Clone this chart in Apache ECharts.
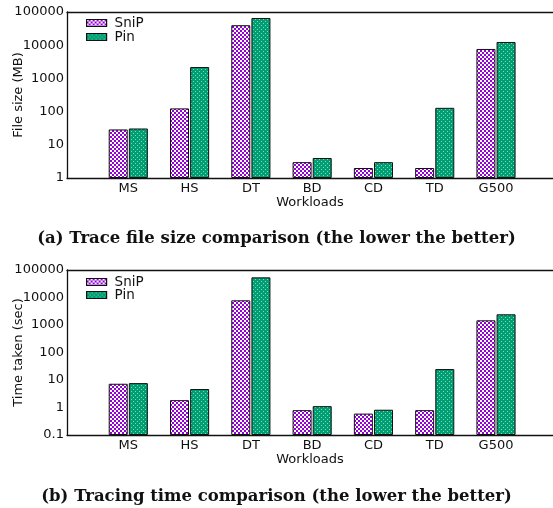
<!DOCTYPE html>
<html>
<head>
<meta charset="utf-8">
<script src="https://cdn.jsdelivr.net/npm/echarts@6/dist/echarts.min.js"></script>
<style>html,body{margin:0;padding:0;background:#fff}#c{width:553px;height:508px}</style>
</head>
<body>
<div id="c"></div>
<script>
// ---- data ----
var categories = ['MS', 'HS', 'DT', 'BD', 'CD', 'TD', 'G500'];
var seriesNames = ['SniP', 'Pin'];
var sizeSniP = [29, 125, 40000, 3, 2, 2, 7700];
var sizePin = [31, 2200, 66000, 4, 3, 130, 12500];
var timeSniP = [7.3, 1.85, 7900, 0.8, 0.6, 0.8, 1480];
var timePin = [7.7, 4.7, 54000, 1.12, 0.83, 25, 2450];
var sizeTicks = ['1', '10', '100', '1000', '10000', '100000'];
var timeTicks = ['0.1', '1', '10', '100', '1000', '10000', '100000'];
var captionA = '(a) Trace file size comparison (the lower the better)';
var captionB = '(b) Tracing time comparison (the lower the better)';

function makePattern(bg, fg, kind) {
  var c = document.createElement('canvas');
  c.width = 4; c.height = 4;
  var g = c.getContext('2d');
  g.fillStyle = bg; g.fillRect(0, 0, 4, 4);
  g.fillStyle = fg;
  if (kind === 'check') {
    g.fillRect(0, 0, 2, 2);
    g.fillRect(2, 2, 2, 2);
  } else {
    g.fillRect(1, 1, 1, 1);
    g.fillRect(3, 3, 1, 1);
  }
  return { image: c, repetition: 'repeat' };
}
var patSniP = makePattern('#9400D3', '#ffffff', 'check');
var patPin = makePattern('#009E73', '#7fd6b8', 'dots');

function pairs(arr) { return arr.map(function (v, i) { return [i, v]; }); }
function tickFmt(list) {
  return function (v) {
    for (var i = 0; i < list.length; i++) {
      if (Math.abs(Math.log10(Number(list[i])) - Math.log10(v)) < 1e-6) return list[i];
    }
    return '';
  };
}

var FONT = 'DejaVu Sans';
var lineStyle = { color: '#111', width: 1.3 };

function xAxes(gi) {
  return [{
    gridIndex: gi, type: 'value', min: -1, max: 6.93, interval: 1,
    axisLine: { show: true, onZero: false, lineStyle: lineStyle },
    axisTick: { show: false }, splitLine: { show: false },
    axisLabel: {
      margin: 4, fontFamily: FONT, fontSize: 13, color: '#111',
      showMaxLabel: false,
      formatter: function (v) { return (Number.isInteger(v) && v >= 0 && v < categories.length) ? categories[v] : ''; }
    },
    name: 'Workloads', nameLocation: 'middle', nameGap: 18, nameMoveOverlap: false,
    nameTextStyle: { fontFamily: FONT, fontSize: 13, color: '#111' }
  }, {
    gridIndex: gi, type: 'value', min: -1, max: 6.93, position: 'top',
    axisLine: { show: true, onZero: false, lineStyle: lineStyle },
    axisTick: { show: false }, splitLine: { show: false }, axisLabel: { show: false }
  }];
}
function yAxis(gi, min, ticks, name) {
  return {
    gridIndex: gi, type: 'log', logBase: 10, min: min, max: 100000, startValue: min,
    axisLine: { show: true, onZero: false, lineStyle: lineStyle },
    axisTick: { show: false }, splitLine: { show: false }, minorTick: { show: false },
    axisLabel: { margin: 3, fontFamily: FONT, fontSize: 13, color: '#111', formatter: tickFmt(ticks) },
    name: name, nameLocation: 'middle', nameGap: 42, nameMoveOverlap: false,
    nameTextStyle: { fontFamily: FONT, fontSize: 13, color: '#111' }
  };
}
function bar(name, data, pat, gi) {
  return {
    name: name, type: 'bar', xAxisIndex: gi * 2, yAxisIndex: gi,
    data: pairs(data), barWidth: 19, barGap: '6%',
    itemStyle: { color: pat, borderColor: '#111', borderWidth: 1 },
    emphasis: { disabled: true }, animation: false
  };
}
function legend(top, gap) {
  return {
    data: seriesNames, orient: 'vertical', left: 81, top: top,
    icon: 'rect', itemWidth: 20, itemHeight: 7, itemGap: gap,
    textStyle: { fontFamily: FONT, fontSize: 13.5, color: '#111', padding: [0, 0, 0, 3] },
    itemStyle: { borderColor: '#111', borderWidth: 1.2 },
    selectedMode: false
  };
}

var chart = echarts.init(document.getElementById('c'), null, { renderer: 'canvas' });
chart.setOption({
  animation: false,
  backgroundColor: '#fff',
  grid: [
    { left: 67, right: 0, top: 12, height: 166, containLabel: false, outerBoundsMode: 'none' },
    { left: 67, right: 0, top: 270, height: 165, containLabel: false, outerBoundsMode: 'none' }
  ],
  xAxis: xAxes(0).concat(xAxes(1)),
  yAxis: [yAxis(0, 1, sizeTicks, 'File size (MB)'), yAxis(1, 0.1, timeTicks, 'Time taken (sec)')],
  legend: [legend(11, 0), legend(270, -1)],
  title: [
    { text: captionA, left: 'center', top: 225, textStyle: { fontFamily: 'DejaVu Serif', fontWeight: 'bold', fontSize: 16.5, color: '#111' } },
    { text: captionB, left: 'center', top: 483, textStyle: { fontFamily: 'DejaVu Serif', fontWeight: 'bold', fontSize: 16.5, color: '#111' } }
  ],
  series: [
    bar(seriesNames[0], sizeSniP, patSniP, 0),
    bar(seriesNames[1], sizePin, patPin, 0),
    bar(seriesNames[0], timeSniP, patSniP, 1),
    bar(seriesNames[1], timePin, patPin, 1)
  ]
});
</script>
</body>
</html>
